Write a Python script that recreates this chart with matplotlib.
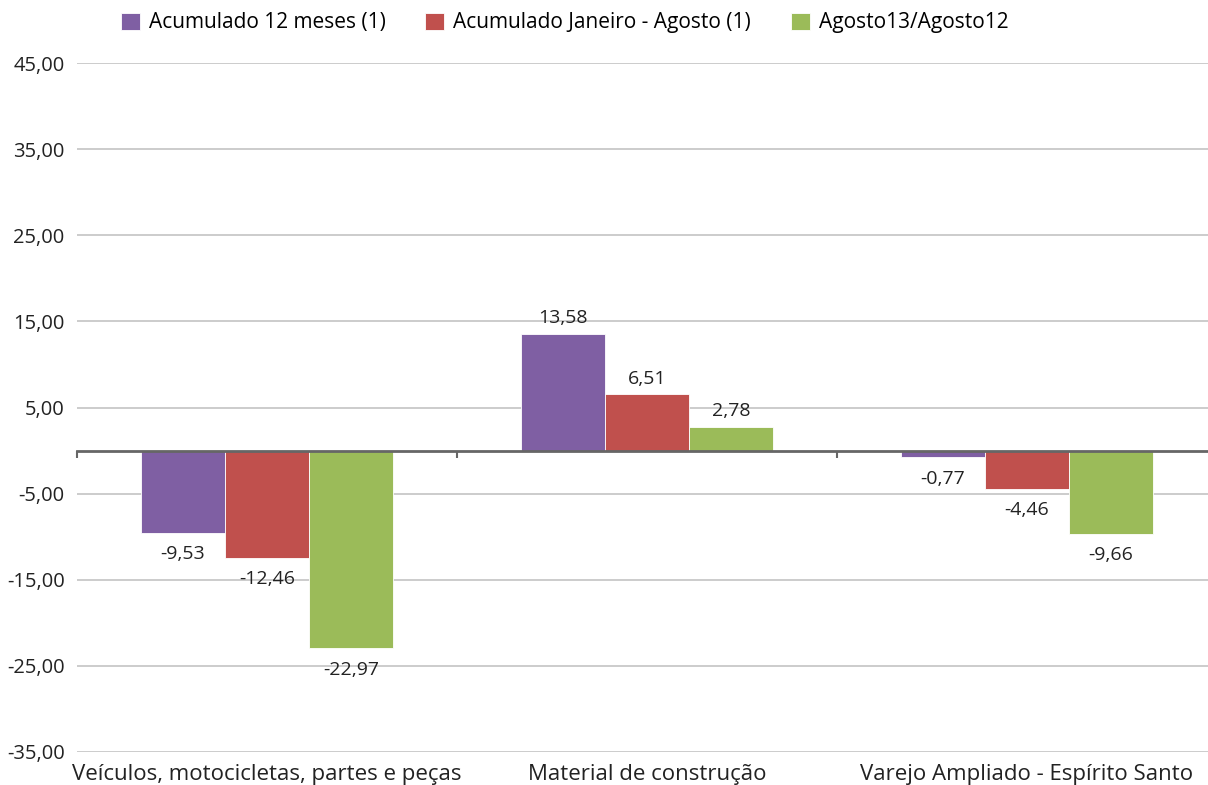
import numpy as np
import matplotlib
matplotlib.use("Agg")
import matplotlib.pyplot as plt
import matplotlib.transforms as mtransforms

plt.rcParams['font.family'] = ['Open Sans', 'DejaVu Sans']

# data
categories = ["Veículos, motocicletas, partes e peças", "Material de construção",
              "Varejo Ampliado - Espírito Santo"]
series_names = ["Acumulado 12 meses (1)", "Acumulado Janeiro - Agosto (1)", "Agosto13/Agosto12"]
acum_12m = [-9.53, 13.58, -0.77]
acum_jan_ago = [-12.46, 6.51, -4.46]
ago13_ago12 = [-22.97, 2.78, -9.66]
yticks = [-35, -25, -15, -5, 5, 15, 25, 35, 45]

colors = ["#7F5FA3", "#C0504D", "#9BBB59"]
values = [acum_12m, acum_jan_ago, ago13_ago12]

fig = plt.figure(figsize=(12.08, 7.85), dpi=100)
ax = fig.add_axes([77 / 1208, 33 / 785, 1140 / 1208, 689 / 785])

x = np.arange(len(categories))
w = 0.221
for i, (vals, col, name) in enumerate(zip(values, colors, series_names)):
    bars = ax.bar(x + (i - 1) * w, vals, width=w, color=col, label=name,
                  edgecolor="white", linewidth=0.6, zorder=3)
    for b, v in zip(bars, vals):
        txt = ("%.2f" % v).replace(".", ",")
        off = 5 if v >= 0 else -9
        ax.annotate(txt, (b.get_x() + b.get_width() / 2, v), xytext=(0, off),
                    textcoords="offset points", ha="center",
                    va="bottom" if v >= 0 else "top", fontsize=14, color="#222222")

ax.set_xlim(-0.5, 2.5)
ax.set_ylim(-35, 45)
ax.set_yticks(yticks)
ax.set_yticklabels([("%.2f" % t).replace(".", ",") for t in yticks], fontsize=14.5, color="#222222")
ax.tick_params(axis="y", length=0, pad=9)
ax.grid(axis="y", color="#BFBFBF", linewidth=1.1, zorder=0)
ax.set_axisbelow(True)

for s in ["top", "right", "left"]:
    ax.spines[s].set_visible(False)
ax.spines["bottom"].set_position(("data", 0))
ax.spines["bottom"].set_color("#666666")
ax.spines["bottom"].set_linewidth(2)
ax.spines["bottom"].set_zorder(4)
ax.set_xticks([-0.5, 0.5, 1.5, 2.5])
ax.set_xticklabels([])
ax.tick_params(axis="x", direction="out", length=5, width=1.5, color="#666666")

trans = mtransforms.blended_transform_factory(ax.transData, ax.transAxes)
for xi, c in zip(x, categories):
    ax.text(xi, -0.018, c, transform=trans, ha="center", va="top",
            fontsize=16, color="#222222")

fig.legend(loc="upper left", bbox_to_anchor=(102 / 1208, 1.008), ncol=3, frameon=False,
           fontsize=15, handlelength=0.9, handleheight=0.9, handletextpad=0.45,
           columnspacing=1.9)

fig.savefig("out.png", dpi=100)
